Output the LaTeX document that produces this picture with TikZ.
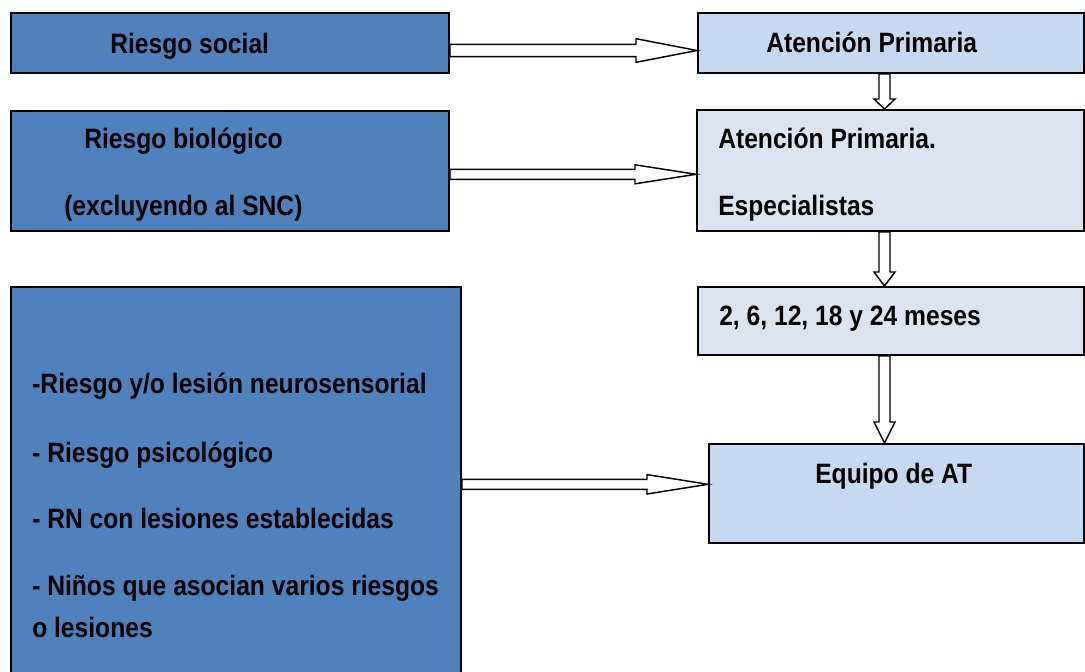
\documentclass[tikz,border=0pt]{standalone}
\usepackage{fontspec}
\setmainfont{Liberation Sans}[FakeStretch=0.88]
\usetikzlibrary{fit,calc}

\definecolor{riskblue}{RGB}{79,129,189}
\definecolor{careblue}{RGB}{198,217,241}
\definecolor{paleblue}{RGB}{219,229,241}

\begin{document}
\begin{tikzpicture}[
    x=0.75pt, y=-0.75pt,
    box_style/.style={draw, line width=1.5pt, inner sep=0pt},
    risk_box/.style={box_style, fill=riskblue},
    care_box/.style={box_style, fill=careblue},
    pale_box/.style={box_style, fill=paleblue},
    label_style/.style={anchor=base west, inner sep=0pt, font=\bfseries\fontsize{21}{25}\selectfont},
    arrow_style/.style={draw, fill=white, line width=1.1pt, line join=miter}
]
\useasboundingbox (0,0) rectangle (1085,671);
\clip (0,0) rectangle (1085,671);
% Left column: risk groups
\node[risk_box, fit={(11,13) (449,73)}] (rs) {};
\node[risk_box, fit={(11,111) (449,231)}] (rb) {};
\node[risk_box, fit={(11,287) (461,700)}] (rn) {};
% Right column: follow-up
\node[care_box, fit={(698,13) (1084,73)}] (ap) {};
\node[pale_box, fit={(697,110) (1084,231)}] (ape) {};
\node[pale_box, fit={(698,287) (1084,355)}] (meses) {};
\node[care_box, fit={(709,444) (1084,543)}] (eq) {};
% Texts
\node[label_style] (trs) at (110,53) {Riesgo social};
\node[label_style] (trb1) at (84,148) {Riesgo biológico};
\node[label_style] (trb2) at (64,215) {(excluyendo al SNC)};
\node[label_style] (trn1) at (32,393) {-Riesgo y/o lesión neurosensorial};
\node[label_style] (trn2) at (32,462) {- Riesgo psicológico};
\node[label_style] (trn3) at (32,528) {- RN con lesiones establecidas};
\node[label_style] (trn4) at (32,595) {- Niños que asocian varios riesgos};
\node[label_style] (trn5) at (32,637) {o lesiones};
\node[label_style] (tap) at (766,52) {Atención Primaria};
\node[label_style] (tape1) at (718,148) {Atención Primaria.};
\node[label_style] (tape2) at (718,215) {Especialistas};
\node[label_style] (tmes) at (719,325) {2, 6, 12, 18 y 24 meses};
\node[label_style] (teq) at (815,483) {Equipo de AT};
% Block arrows left to right
\foreach \a/\b/\y/\s/\h in {rs/ap/50.5/6.2/11.8, rb/ape/174.3/5/9.5, rn/eq/484.3/5/9.7} {
    \coordinate (tip) at (\b.west |- 0,\y);
    \coordinate (tail) at (\a.east |- 0,\y);
    \draw[arrow_style] ($(tail)+(0,-\s)$) -- ($(tip)+(-61,-\s)$) -- ($(tip)+(-61,-\h)$)
        -- (tip) -- ($(tip)+(-61,\h)$) -- ($(tip)+(-61,\s)$) -- ($(tail)+(0,\s)$) -- cycle;
}
% Block arrows downwards
\foreach \a/\b/\l in {ap/ape/10, ape/meses/14, meses/eq/21} {
    \coordinate (tail) at (884.5,0 |- \a.south);
    \coordinate (tip) at (884.5,0 |- \b.north);
    \draw[arrow_style] ($(tail)+(-5.5,0)$) -- ($(tip)+(-5.5,-\l)$) -- ($(tip)+(-10.5,-\l)$)
        -- (tip) -- ($(tip)+(10.5,-\l)$) -- ($(tip)+(5.5,-\l)$) -- ($(tail)+(5.5,0)$) -- cycle;
}
\end{tikzpicture}
\end{document}
